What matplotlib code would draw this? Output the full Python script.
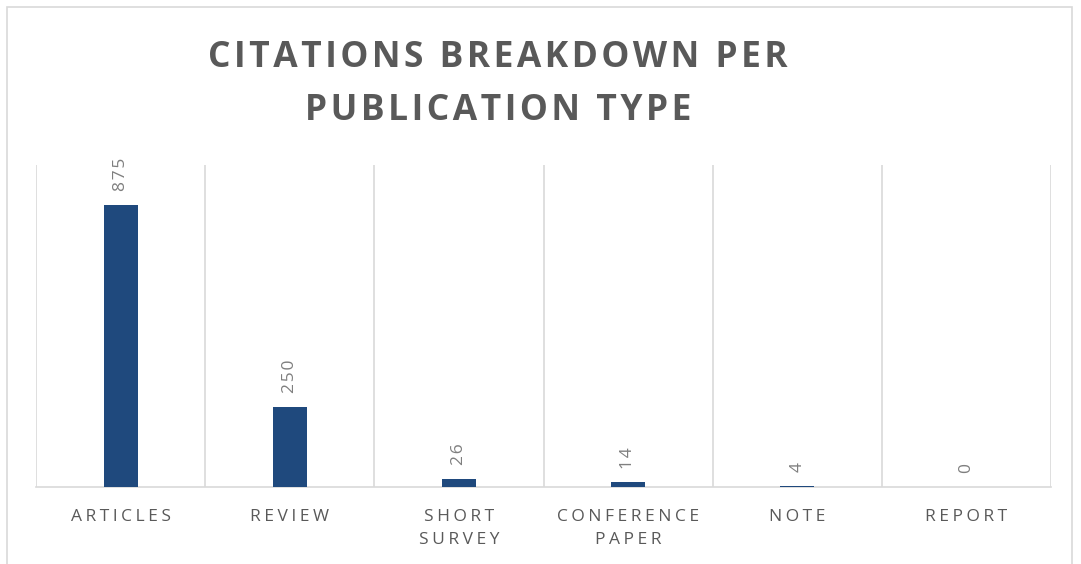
import matplotlib
matplotlib.use("Agg")
import matplotlib.pyplot as plt
from matplotlib.patches import Rectangle

categories = ["ARTICLES", "REVIEW", "SHORT\nSURVEY", "CONFERENCE\nPAPER", "NOTE", "REPORT"]
citations = [875, 250, 26, 14, 4, 0]
title_lines = ["CITATIONS BREAKDOWN PER", "PUBLICATION TYPE"]

HS = "\u200a"  # hair space for letter spacing


def spaced(s, n=1):
    return "\n".join((HS * n).join(list(line)) for line in s.split("\n"))


FAM = ["Open Sans", "DejaVu Sans"]
BAR = "#1f497d"
GRID = "#d9d9d9"
TXT = "#595959"

fig = plt.figure(figsize=(10.81, 5.64), dpi=100)
fig.patch.set_facecolor("white")

# outer chart border
fig.patches.append(Rectangle((7 / 1081, -0.02), (1072 - 7) / 1081, 1.02 - 7 / 564,
                             transform=fig.transFigure, fill=False,
                             edgecolor=GRID, linewidth=1.2))

ax = fig.add_axes([36 / 1081, 77 / 564, (1051 - 36) / 1081, (487 - 165) / 564])
x = list(range(len(categories)))
ax.bar(x, citations, width=0.2, color=BAR, zorder=3)
ax.set_xlim(-0.5, len(categories) - 0.5)
ax.set_ylim(0, 1000)

for b in [i - 0.5 for i in range(len(categories) + 1)]:
    ax.axvline(b, color=GRID, linewidth=1.2, zorder=1)

for s in ["top", "right", "left"]:
    ax.spines[s].set_visible(False)
ax.spines["bottom"].set_color(GRID)
ax.spines["bottom"].set_linewidth(1.2)
ax.set_yticks([])
ax.set_xticks(x)
ax.set_xticklabels([spaced(c, 2) for c in categories], family=FAM, fontsize=12.5,
                   color=TXT, linespacing=1.6)
ax.tick_params(axis="x", length=0, pad=16)

for xi, v in zip(x, citations):
    ax.annotate(spaced(str(v), 1), (xi, v), xytext=(0, 10), textcoords="offset points",
                rotation=90, ha="center", va="bottom", family=FAM,
                fontsize=12.5, color="#7f7f7f")

fig.text(498 / 1081, 1 - 58 / 564, spaced(title_lines[0], 1), ha="center", va="center",
         family=FAM, fontsize=25.5, fontweight="bold", color=TXT)
fig.text(498 / 1081, 1 - 111 / 564, spaced(title_lines[1], 1), ha="center", va="center",
         family=FAM, fontsize=25.5, fontweight="bold", color=TXT)

fig.savefig("out.png", dpi=100, facecolor="white")
